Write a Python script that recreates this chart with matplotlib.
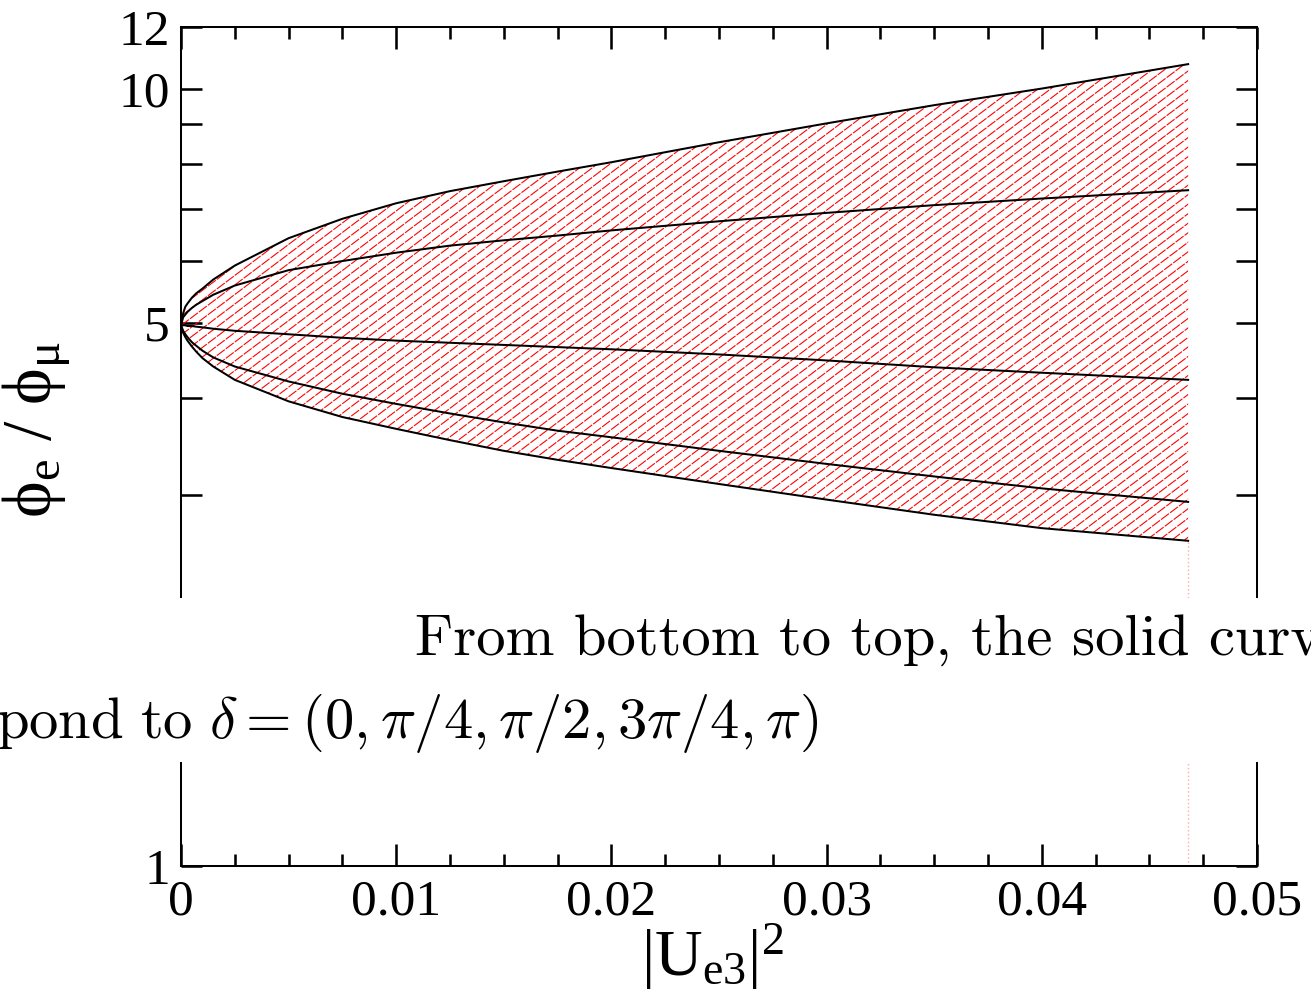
import numpy as np
import matplotlib
matplotlib.use('Agg')
import matplotlib.pyplot as plt
from matplotlib.ticker import FixedLocator, MultipleLocator, NullFormatter
from matplotlib.patches import Rectangle
from matplotlib.collections import LineCollection

# |Ue3|^2 grid and flux ratio phi_e/phi_mu for each CP phase
ue3_sq = [0, 0.0001, 0.0002, 0.0003, 0.0005, 0.0007, 0.001, 0.0015, 0.0025,
          0.005, 0.0075, 0.01, 0.0125, 0.015, 0.0175, 0.02, 0.025, 0.03,
          0.035, 0.04, 0.0468]
ratio_d0 = [4.96, 4.85, 4.79, 4.74, 4.66, 4.59, 4.50, 4.39, 4.22,
            3.96, 3.78, 3.65, 3.53, 3.42, 3.33, 3.25, 3.10, 2.96,
            2.83, 2.72, 2.62]
ratio_dpi4 = [4.96, 4.88, 4.83, 4.79, 4.72, 4.67, 4.60, 4.51, 4.39,
              4.20, 4.05, 3.93, 3.82, 3.72, 3.63, 3.56, 3.42, 3.29,
              3.17, 3.06, 2.94]
ratio_dpi2 = [4.96, 4.96, 4.96, 4.95, 4.95, 4.94, 4.93, 4.91, 4.88,
              4.83, 4.78, 4.74, 4.71, 4.68, 4.65, 4.62, 4.55, 4.47,
              4.38, 4.31, 4.22]
ratio_d3pi4 = [4.96, 5.08, 5.12, 5.16, 5.22, 5.27, 5.33, 5.43, 5.58,
               5.84, 6.00, 6.15, 6.28, 6.38, 6.47, 6.57, 6.75, 6.92,
               7.08, 7.22, 7.40]
ratio_dpi = [4.96, 5.14, 5.24, 5.29, 5.38, 5.45, 5.53, 5.68, 5.92,
             6.42, 6.80, 7.12, 7.38, 7.60, 7.82, 8.04, 8.53, 9.02,
             9.52, 10.00, 10.75]

x_major = [0, 0.01, 0.02, 0.03, 0.04, 0.05]
x_labels = ['0', '0.01', '0.02', '0.03', '0.04', '0.05']
y_major = [1, 5, 10, 12]
y_minor = [2, 3, 4, 6, 7, 8, 9]

plt.rcParams['font.family'] = 'Liberation Serif'
plt.rcParams['mathtext.fontset'] = 'custom'
plt.rcParams['mathtext.rm'] = 'Liberation Serif'
plt.rcParams['mathtext.it'] = 'Liberation Serif:italic'

dpi = 132
W, H = 1311, 998
ax_px = (181, 866, 1076, 839)   # left, bottom (from top), width, height
fig = plt.figure(figsize=(W / dpi, H / dpi), dpi=dpi)
ax = fig.add_axes([ax_px[0] / W, 1 - ax_px[1] / H, ax_px[2] / W, ax_px[3] / H])

ax.set_yscale('log')
ax.set_xlim(0, 0.05)
ax.set_ylim(1, 12)

# band between delta = 0 and delta = pi, hatched with thin red lines
band = ax.fill_between(ue3_sq, ratio_d0, ratio_dpi, facecolor='none',
                       linewidth=0)
ang = np.deg2rad(37)
gap = 7.6                      # perpendicular spacing in pixels
aw, ah = ax_px[2], ax_px[3]
step = gap / np.cos(ang)
offs = np.arange(-aw * np.tan(ang), ah + step, step)
segs = [[(0, b / ah), (1, (aw * np.tan(ang) + b) / ah)] for b in offs]
hatch = LineCollection(segs, colors='red', linewidths=0.6,
                       linestyles=(0, (9, 1.2)), transform=ax.transAxes)
ax.add_collection(hatch)
hatch.set_clip_path(band.get_paths()[0], ax.transData)

ax.plot([ue3_sq[-1], ue3_sq[-1]], [1, ratio_d0[-1]], color='#ffb0b0',
        linestyle=':', linewidth=0.8)

for curve in [ratio_d0, ratio_dpi4, ratio_dpi2, ratio_d3pi4, ratio_dpi]:
    ax.plot(ue3_sq, curve, color='black', linewidth=1.1)

ax.xaxis.set_major_locator(FixedLocator(x_major))
ax.xaxis.set_minor_locator(MultipleLocator(0.0025))
ax.set_xticklabels(x_labels)
ax.yaxis.set_major_locator(FixedLocator(y_major))
ax.yaxis.set_minor_locator(FixedLocator(y_minor))
ax.set_yticklabels([str(v) for v in y_major])
ax.yaxis.set_minor_formatter(NullFormatter())

ax.tick_params(axis='both', which='both', direction='in', top=True, right=True,
               width=1.4, labelsize=28)
ax.tick_params(axis='x', which='major', length=12, pad=7)
ax.tick_params(axis='x', which='minor', length=6.5)
ax.tick_params(axis='y', which='both', length=11.5, pad=6)
for sp in ax.spines.values():
    sp.set_linewidth(1.1)

ax.set_xlabel(r'$\mathrm{|U_{e3}|^2}$', fontsize=36)
ax.xaxis.set_label_coords(0.4935, -0.066)
ax.set_ylabel(r'$\mathrm{\phi_e\ /\ \phi_\mu}$', fontsize=38)
ax.yaxis.set_label_coords(-0.10, 0.52)

# caption strip laid over the plot
fig.patches.append(Rectangle((0, 1 - 762 / H), 1, 164 / H,
                             transform=fig.transFigure, facecolor='white',
                             edgecolor='none', zorder=5))
fig.text(415 / W, 1 - 655 / H, 'From bottom to top, the solid curv',
         fontsize=32, family='cmr10', ha='left', va='baseline', zorder=6)
fig.text(-4 / W, 1 - 738 / H,
         r'$\mathrm{pond\ to}\ \delta=(0,\pi/4,\pi/2,3\pi/4,\pi)$',
         fontsize=32, math_fontfamily='cm', ha='left', va='baseline', zorder=6)

fig.savefig('out.png', dpi=dpi)
